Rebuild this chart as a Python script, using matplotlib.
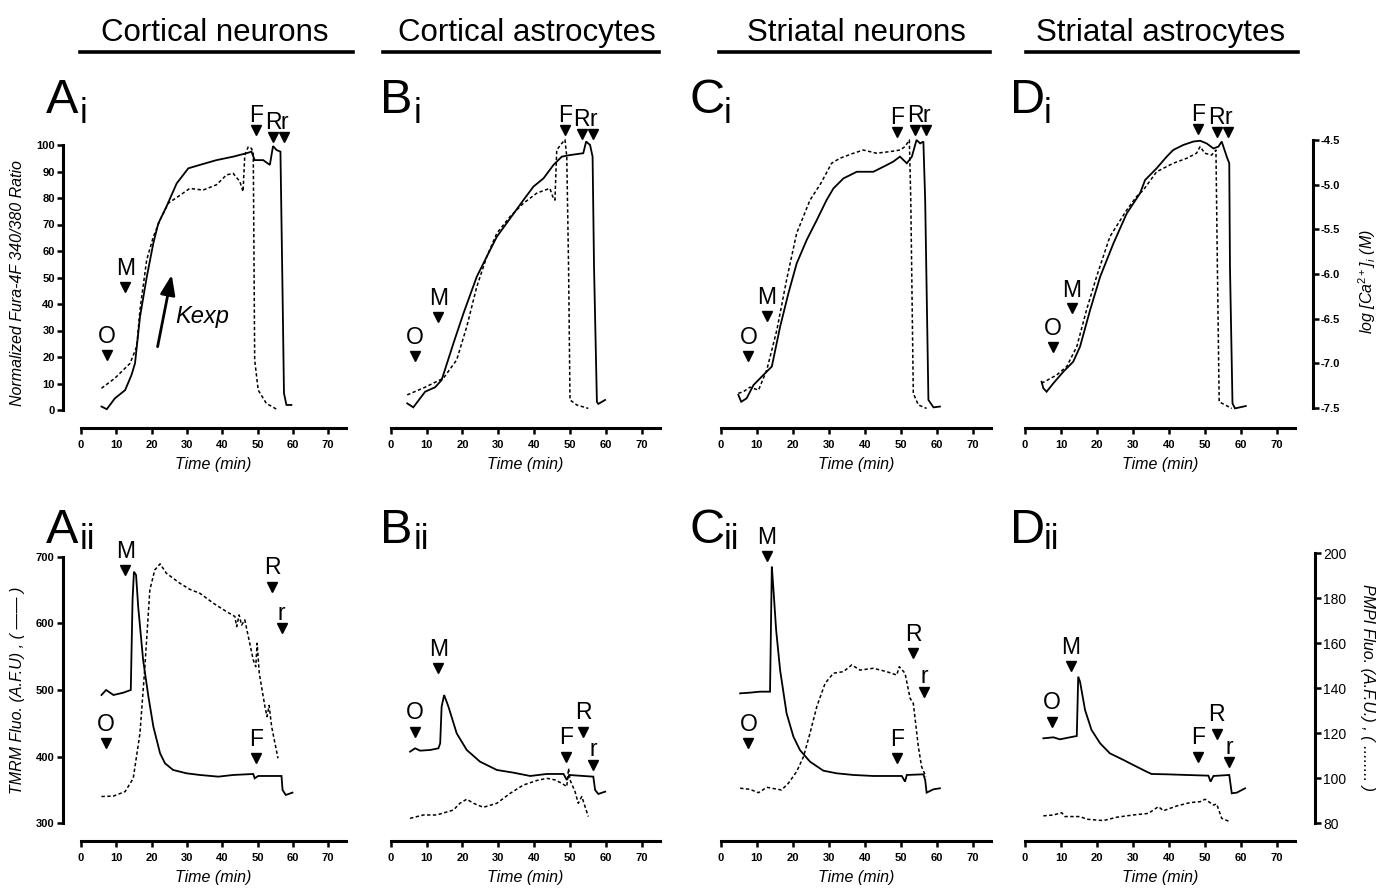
import matplotlib
matplotlib.use("Agg")
import matplotlib.pyplot as plt
from matplotlib.lines import Line2D
from matplotlib.ticker import FormatStrFormatter

plt.rcParams['font.family'] = ['Liberation Sans', 'DejaVu Sans']
plt.rcParams['axes.unicode_minus'] = False
plt.rcParams['mathtext.fontset'] = 'custom'
plt.rcParams['mathtext.rm'] = 'Liberation Sans'
plt.rcParams['mathtext.it'] = 'Liberation Sans:italic'

# ---------------- data ----------------
titles = ['Cortical neurons', 'Cortical astrocytes', 'Striatal neurons', 'Striatal astrocytes']
letters = ['A', 'B', 'C', 'D']
xticks = [0, 10, 20, 30, 40, 50, 60, 70]

# row i : normalized Fura-4F ratio (solid / dashed)
ai_sol_t = [5.8, 7.3, 9.6, 12.5, 14.3, 15.3, 16.7, 18.6, 20.5, 21.9, 24.2, 27.1, 30.4, 33.7, 38.4, 43.1, 46.9, 48.3, 49.2, 51.6, 53.5, 54.4, 55.4, 56.5, 57.1, 57.5, 58.2, 59.6]
ai_sol_v = [1.3, 0.3, 4.4, 7.5, 13.2, 17.6, 35, 50, 63, 70.4, 76.7, 85.5, 91.2, 92.5, 94.3, 95.6, 96.9, 97.5, 94.3, 94.3, 92.5, 99.6, 98.1, 97.5, 44, 6.3, 1.9, 1.9]
ai_dash_t = [5.8, 9.6, 13.9, 15.8, 16.7, 18.6, 20.5, 22.4, 24.7, 28.0, 30.8, 34.6, 38.4, 41.2, 43.1, 45.0, 45.9, 46.4, 47.4, 48.3, 48.8, 49.2, 50.2, 52.5, 55.4]
ai_dash_v = [8.2, 12, 17.6, 24, 37.7, 56.6, 65.4, 71.7, 78, 81, 83.6, 83, 85, 88.7, 89.3, 86.2, 82.4, 96.2, 99.4, 98.7, 97, 18.9, 7.5, 2.5, 0.3]

bi_sol_t = [4.6, 6.3, 8.2, 9.6, 12.4, 14.2, 17.5, 20.3, 24.0, 26.8, 29.6, 33.3, 37.0, 39.8, 42.6, 45.4, 47.7, 50.0, 53.7, 54.5, 55.6, 56.3, 56.7, 57.5, 57.9, 59.8]
bi_sol_v = [2.5, 1.0, 4.4, 6.9, 8.6, 11.3, 25.2, 36.5, 50.3, 57.9, 65.4, 72.3, 79.2, 84.3, 87.4, 92.5, 95.6, 96.2, 96.9, 101.3, 100, 95.6, 54, 3.1, 2.3, 3.8]
bi_dash_t = [4.6, 9.6, 14.7, 18.4, 21.2, 24.0, 26.8, 29.6, 33.3, 37.0, 40.7, 43.0, 44.4, 45.2, 45.8, 46.3, 47.7, 48.6, 49.1, 49.6, 50.0, 51.9, 55.1]
bi_dash_v = [5.7, 8.6, 12, 18.9, 31.4, 46.5, 57.9, 66.7, 73, 78, 81.8, 83, 83.6, 80.5, 79.2, 98.1, 100.6, 102, 95.6, 54, 3.8, 1.9, 0.6]

ci_sol_t = [4.9, 5.7, 7.2, 9.1, 11.4, 14.2, 16.5, 18.8, 21.1, 23.9, 26.7, 29.4, 31.3, 34.1, 37.8, 42.4, 45.2, 47.9, 49.8, 51.7, 53.1, 54.4, 55.4, 56.3, 56.8, 57.7, 59.1, 60.9]
ci_sol_v = [5.7, 3.1, 4.4, 9.4, 12.6, 16.4, 31.4, 44, 55.3, 64.2, 71.7, 79.2, 83.6, 87.4, 89.9, 89.9, 91.8, 93.7, 95.6, 93.1, 95.6, 101.9, 100.6, 101.3, 79.2, 3.8, 1.0, 1.3]
ci_dash_t = [4.9, 6.3, 8.1, 10.5, 12.8, 15.6, 18.3, 21.1, 24.8, 27.8, 30.8, 33.1, 36.9, 39.6, 43.3, 47.0, 49.8, 51.2, 52.4, 52.8, 53.5, 54.9, 57.2]
ci_dash_v = [6.3, 6.9, 8.6, 7.5, 15.1, 30.2, 49.1, 66.7, 79.2, 85.5, 93.1, 95, 96.9, 98.1, 96.9, 97.5, 98.1, 99.4, 101.9, 79.2, 6.3, 1.9, 0.6]

di_sol_t = [4.6, 5.1, 6.0, 7.9, 10.7, 13.4, 15.3, 18.1, 20.9, 24.6, 28.3, 32.0, 33.4, 36.6, 39.4, 41.2, 44.0, 46.8, 48.7, 50.5, 52.4, 53.8, 54.7, 56.1, 56.8, 57.0, 57.7, 58.4, 61.4]
di_sol_v = [10.7, 8.2, 6.9, 10.1, 14.5, 18.2, 23.9, 37.7, 50.3, 62.9, 74.2, 81.8, 86.8, 91.2, 95.6, 98.1, 100, 101.3, 101.6, 100.6, 98.7, 99.4, 101.3, 95.6, 93.1, 54, 2.5, 0.6, 1.5]
di_dash_t = [4.6, 6.0, 8.8, 11.6, 14.4, 17.1, 19.9, 23.6, 28.3, 31.0, 32.9, 36.6, 41.2, 45.0, 47.7, 48.7, 50.0, 51.9, 53.1, 53.5, 54.0, 55.1, 57.5]
di_dash_v = [10.1, 11.1, 13.2, 16.4, 23.9, 37.7, 50.3, 65.4, 75.5, 80.5, 83, 89.9, 93.1, 95, 96.9, 99.4, 96.9, 96.2, 98.1, 54, 3.1, 2.3, 0.6]

# row ii : TMRM (solid, left axis) and PMPI (dashed, right axis)
aii_sol_t = [5.8, 7.1, 9.2, 12.0, 14.1, 14.6, 15.0, 15.6, 16.2, 17.6, 19.1, 20.5, 22.4, 23.8, 26.1, 29.9, 33.7, 38.9, 43.1, 48.8, 49.2, 50.2, 56.8, 57.1, 58.0, 59.9]
aii_sol_v = [492.5, 500, 492.5, 496, 500, 635, 677.5, 672.5, 625, 545, 490, 445, 405, 390, 380, 375, 372.5, 370, 372.5, 374, 367.5, 371, 371, 350, 342.5, 346]
aii_dash_t = [5.8, 9.2, 12.5, 14.8, 16.7, 18.1, 19.5, 20.9, 22.4, 24.2, 28.0, 30.8, 33.7, 37.5, 41.2, 43.6, 44.1, 44.8, 45.5, 46.4, 48.8, 49.5, 49.9, 50.5, 52.1, 52.7, 53.3, 54.0, 55.8]
aii_dash_v = [91.9, 92.1, 94.1, 100, 120, 149.6, 183.7, 192.6, 195.3, 191.1, 186.7, 184, 182.2, 177.8, 174.1, 171.9, 167.4, 172.6, 168.1, 170.4, 152.6, 149.6, 160, 146.7, 131.9, 127.4, 132.4, 123, 108.9]

bii_sol_t = [5.4, 6.8, 8.2, 11.0, 13.3, 13.8, 14.2, 14.9, 16.1, 18.4, 21.2, 24.9, 29.6, 34.2, 38.9, 43.5, 48.2, 49.1, 49.8, 53.7, 56.5, 57.0, 57.9, 59.8]
bii_sol_v = [407.5, 412.5, 409, 410, 412.5, 420, 475, 492.5, 475, 435, 410, 392.5, 380, 376, 371, 374, 374, 365, 372.5, 371, 370, 350, 344, 347.5]
bii_dash_t = [5.4, 9.1, 12.8, 17.5, 19.3, 21.2, 23.1, 25.8, 29.6, 33.3, 37.0, 40.7, 43.5, 45.8, 47.7, 49.1, 49.6, 50.0, 51.4, 52.3, 53.3, 54.2, 55.1]
bii_dash_v = [82.2, 83.7, 83.7, 85.9, 88.9, 90.7, 88.9, 87.1, 88.9, 93.3, 97, 99, 100, 99.3, 97.8, 96.3, 104.4, 99.3, 94.1, 88.9, 91.9, 87.4, 83]

cii_sol_t = [5.4, 8.1, 10.9, 13.7, 14.2, 14.6, 15.4, 16.5, 18.3, 20.2, 22.0, 24.8, 28.5, 32.2, 36.9, 42.4, 48.0, 50.3, 51.2, 51.7, 56.3, 56.8, 57.2, 59.1, 60.9]
cii_sol_v = [495, 496, 497.5, 497.5, 685, 655, 590, 530, 465, 430, 410, 392.5, 379, 375, 372.5, 371, 371, 371, 362.5, 372.5, 373.5, 365, 346, 351, 352.5]
cii_dash_t = [5.4, 8.1, 10.5, 12.8, 16.9, 18.8, 21.1, 23.0, 24.8, 26.7, 29.0, 31.3, 34.1, 36.4, 38.7, 42.4, 46.1, 48.9, 49.6, 51.2, 52.6, 53.5, 54.9, 55.8, 57.0]
cii_dash_v = [95.6, 95.1, 93.6, 96, 94.8, 97.8, 103, 109.6, 120, 131.9, 142.2, 146.7, 147.4, 150.4, 148.1, 148.9, 147.4, 145.9, 149.6, 146.7, 135.6, 133.3, 114.1, 105.2, 100.7]

dii_sol_t = [5.1, 7.9, 9.7, 12.5, 14.4, 14.8, 15.3, 16.7, 18.5, 20.9, 23.6, 27.4, 30.1, 33.8, 35.2, 39.4, 45.0, 51.0, 51.6, 52.4, 56.8, 57.5, 58.9, 61.2]
dii_sol_v = [427.5, 429, 426, 429, 431, 520, 512.5, 470, 440, 420, 405, 395, 387.5, 377.5, 374, 373.5, 372.5, 371.5, 362.5, 371, 372.5, 345, 346, 352.5]
dii_dash_t = [5.1, 7.9, 10.2, 11.1, 15.3, 17.2, 21.8, 25.5, 30.1, 34.3, 37.1, 38.5, 42.2, 45.9, 48.7, 50.1, 52.4, 53.3, 54.7, 57.0]
dii_dash_v = [83.3, 83.7, 84.7, 83, 83, 81.8, 81.2, 82.7, 83.7, 84.4, 87.4, 85.6, 87.7, 89.2, 89.6, 90.7, 88.1, 88.6, 82.2, 80.7]

# event markers: (label, time, level of the arrowhead)
ai_marks = [('O', 7.3, 20.8), ('M', 12.5, 46.5), ('F', 49.5, 105.5), ('R', 54.4, 103.2), ('r', 57.5, 103.2)]
bi_marks = [('O', 6.8, 20.4), ('M', 13.3, 35.2), ('F', 48.6, 105.7), ('R', 53.3, 104.2), ('r', 56.5, 104.2)]
ci_marks = [('O', 7.7, 20.4), ('M', 12.8, 35.5), ('F', 48.9, 105.0), ('R', 54.0, 105.7), ('r', 57.0, 105.7)]
di_marks = [('O', 7.7, 23.9), ('M', 13.0, 38.4), ('F', 48.2, 106.0), ('R', 53.3, 104.8), ('r', 56.4, 104.8)]
aii_marks = [('O', 7.1, 420), ('M', 12.5, 680), ('F', 49.7, 397.5), ('R', 54.2, 655), ('r', 56.8, 592.5)]
bii_marks = [('O', 6.8, 437.5), ('M', 13.3, 532.5), ('F', 49.0, 400), ('R', 53.7, 437.5), ('r', 56.5, 387.5)]
cii_marks = [('O', 7.7, 420), ('M', 12.8, 701), ('F', 48.9, 397.5), ('R', 53.5, 555), ('r', 56.5, 497.5)]
dii_marks = [('O', 7.4, 452.5), ('M', 12.8, 536), ('F', 48.2, 400), ('R', 53.3, 434), ('r', 56.8, 391.5)]

row_i = [(ai_sol_t, ai_sol_v, ai_dash_t, ai_dash_v, ai_marks),
         (bi_sol_t, bi_sol_v, bi_dash_t, bi_dash_v, bi_marks),
         (ci_sol_t, ci_sol_v, ci_dash_t, ci_dash_v, ci_marks),
         (di_sol_t, di_sol_v, di_dash_t, di_dash_v, di_marks)]
row_ii = [(aii_sol_t, aii_sol_v, aii_dash_t, aii_dash_v, aii_marks),
          (bii_sol_t, bii_sol_v, bii_dash_t, bii_dash_v, bii_marks),
          (cii_sol_t, cii_sol_v, cii_dash_t, cii_dash_v, cii_marks),
          (dii_sol_t, dii_sol_v, dii_dash_t, dii_dash_v, dii_marks)]

# ---------------- layout (pixels) ----------------
W, H = 1382, 889
fig = plt.figure(figsize=(W / 100, H / 100), dpi=100)

col_x0 = [81, 390.7, 720.7, 1025]     # pixel of t = 0
col_k = [3.53, 3.586, 3.6, 3.596]     # pixels per minute
row_box = [(125, 418), (530, 834)]    # top / bottom of plotting area
row_xaxis = [428, 841]
row_left = [(100, 145, 0, 410), (700, 556.7, 300, 823.3)]
row_right = [(-4.5, 140, -7.5, 408), (200, 553.3, 80, 823.3)]
left_spine_px = 63
right_spine_px = [1312.5, 1315]
letter_x = [46, 380, 690, 1010]
letter_base = [113, 543]
sub_base = [123, 549]

SOLID = dict(color='k', lw=1.3, solid_joinstyle='miter')
DASH = dict(color='k', lw=1.1, linestyle=(0, (2.2, 1.6)))


def lims(p_top, p_bot, v1, p1, v2, p2):
    s = (v1 - v2) / (p2 - p1)
    return v2 - (p_bot - p2) * s, v1 + (p1 - p_top) * s


def style_xaxis(ax, row):
    for s in ['top', 'right', 'left']:
        ax.spines[s].set_visible(False)
    ax.spines['bottom'].set_linewidth(2.2)
    ax.spines['bottom'].set_bounds(0, 75)
    out = (row_xaxis[row] - row_box[row][1]) * 0.72
    ax.spines['bottom'].set_position(('outward', out))
    ax.set_xlim(0, 75)
    ax.set_xticks(xticks, labels=[str(x) for x in xticks], fontsize=8, fontweight='bold')
    ax.tick_params(axis='x', direction='out', length=4, width=1.8, pad=4.5)
    ax.set_xlabel('Time (min)', fontsize=11.5, style='italic', labelpad=5)
    ax.patch.set_visible(False)


def hide_y(a):
    a.tick_params(axis='y', left=False, labelleft=False, right=False, labelright=False)


def mark(ax, label, t, v, dy):
    ax.plot([t], [v], marker='v', color='k', markersize=6.5, clip_on=False, ls='none')
    ax.annotate(label, (t, v), xytext=(0, dy * 0.72), textcoords='offset points',
                ha='center', va='center', fontsize=16.5, annotation_clip=False)


for row, panels in enumerate([row_i, row_ii]):
    top, bot = row_box[row]
    for col, (st, sv, dt, dv, marks) in enumerate(panels):
        ax = fig.add_axes([col_x0[col] / W, 1 - bot / H, 75 * col_k[col] / W, (bot - top) / H])
        style_xaxis(ax, row)
        ax.set_ylim(*lims(top, bot, *row_left[row]))
        ax.plot(st, sv, **SOLID)
        if row == 0:
            ax.plot(dt, dv, **DASH)
            yax = ax
        else:
            tw = ax.twinx()
            tw.set_ylim(*lims(top, bot, *row_right[row]))
            tw.plot(dt, dv, **DASH)
            for s in tw.spines.values():
                s.set_visible(False)
            hide_y(tw)
            yax = tw
        hide_y(ax)
        for lab, t, v in marks:
            if row == 0:
                dy = 14.5 if lab in 'FRr' else 18
            else:
                dy = 15 if lab == 'r' else 19
            mark(ax, lab, t, v, dy)

        # left axis on column A
        if col == 0:
            sp = ax.spines['left']
            sp.set_visible(True)
            sp.set_linewidth(2.2)
            sp.set_position(('outward', (col_x0[0] - left_spine_px) * 0.72))
            if row == 0:
                sp.set_bounds(0, 100)
                lt = list(range(0, 101, 10))
            else:
                sp.set_bounds(300, 700)
                lt = list(range(300, 701, 100))
            ax.set_yticks(lt, labels=[str(v) for v in lt], fontsize=8, fontweight='bold')
            ax.tick_params(axis='y', left=True, labelleft=True, direction='out',
                           length=4, width=1.8, pad=2)

        # right axis on column D
        if col == 3:
            if row == 0:
                rax = ax.twinx()
                rax.set_ylim(*lims(top, bot, *row_right[0]))
                rticks = [-7.5, -7.0, -6.5, -6.0, -5.5, -5.0, -4.5]
                rb = (-7.5, -4.5)
                hide_y(ax)
            else:
                rax = yax
                rticks = [80, 100, 120, 140, 160, 180, 200]
                rb = (80, 200)
            for s in ['top', 'left', 'bottom']:
                rax.spines[s].set_visible(False)
            sp = rax.spines['right']
            sp.set_visible(True)
            sp.set_linewidth(2.2)
            sp.set_bounds(*rb)
            axis_right = col_x0[3] + 75 * col_k[3]
            sp.set_position(('outward', (right_spine_px[row] - axis_right) * 0.72))
            rax.set_yticks(rticks)
            if row == 0:
                rax.yaxis.set_major_formatter(FormatStrFormatter('%.1f'))
            for lbl in rax.get_yticklabels():
                lbl.set_fontweight('bold')
                lbl.set_fontsize(8)
            rax.tick_params(axis='y', left=False, labelleft=False, right=True, labelright=True,
                            direction='out', length=4, width=1.8, pad=2)

        # panel letters
        lx = letter_x[col]
        fig.text(lx / W, 1 - letter_base[row] / H, letters[col], fontsize=35,
                 va='baseline', ha='left')
        fig.text((lx + 34) / W, 1 - sub_base[row] / H, ['i', 'ii'][row], fontsize=25,
                 va='baseline', ha='left')

        if row == 0 and col == 0:
            ax.annotate('', xy=(25.7, 51), xytext=(21.7, 23.9),
                        arrowprops=dict(arrowstyle='-|>,head_length=1.2,head_width=0.45',
                                        lw=2, color='k', shrinkA=0, shrinkB=0))
            ax.text(26.6, 35.2, 'Kexp', fontsize=17, style='italic', ha='left', va='center')

# column titles with underline
title_cx = [215, 527, 856, 1161]
rule_x = [(80, 353), (383, 659), (719, 990), (1026, 1298)]
for i, ttl in enumerate(titles):
    fig.text(title_cx[i] / W, 1 - 41 / H, ttl, fontsize=22.5, ha='center', va='baseline')
    x1, x2 = rule_x[i]
    fig.add_artist(Line2D([x1 / W, x2 / W], [1 - 52 / H, 1 - 52 / H],
                          transform=fig.transFigure, color='k', lw=2.6))

# axis titles
fig.text(18 / W, 1 - 283 / H, 'Normalized Fura-4F 340/380 Ratio', rotation=90,
         fontsize=11.5, style='italic', ha='center', va='center')
fig.text(18 / W, 1 - 690 / H, 'TMRM Fluo. (A.F.U) , ( \u2014\u2014 )', rotation=90,
         fontsize=11.5, style='italic', ha='center', va='center')
fig.text(1367 / W, 1 - 282 / H, r'log [Ca$^{2+}$]$_i$ (M)', rotation=90,
         fontsize=11.5, style='italic', ha='center', va='center')
fig.text(1368 / W, 1 - 688 / H, 'PMPI Fluo. (A.F.U.) , ( ........ )', rotation=270,
         fontsize=11.5, style='italic', ha='center', va='center')

fig.savefig('out.png', dpi=100)
